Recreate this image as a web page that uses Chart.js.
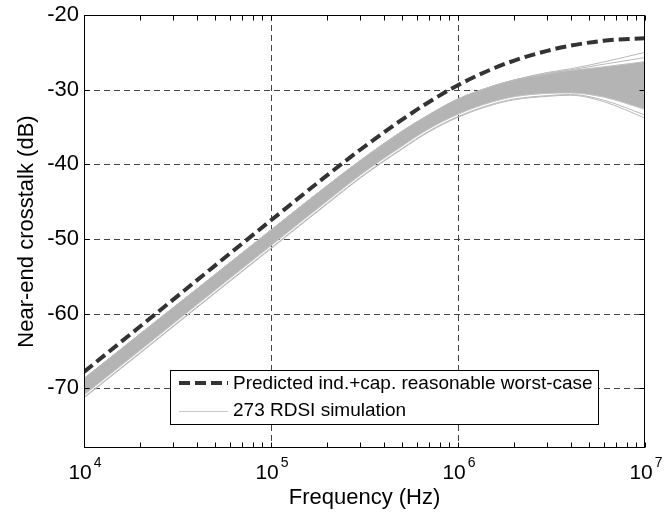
<!DOCTYPE html>
<html>
<head>
<meta charset="utf-8">
<script src="https://cdn.jsdelivr.net/npm/chart.js@4"></script>
<style>
html, body { margin: 0; padding: 0; background: #fff; }
</style>
</head>
<body>
<canvas id="myChart" width="664" height="516"></canvas>
<script>
// frequencies (Hz)
const freq = [1e4, 2e4, 5e4, 1e5, 2e5, 3e5, 5e5, 7e5, 1e6, 1.5e6, 2e6, 3e6, 4e6, 6e6, 1e7]
// predicted worst case (dB)
const worstCase = [-67.8, -61.7, -53.6, -47.5, -41.45, -38.05, -34.05, -31.65, -29.4, -27.3, -26.1, -24.8, -24.1, -23.45, -23.1]
// envelope of the simulation bundle
const bandTop = [-68.7, -62.7, -54.8, -48.8, -42.85, -39.5, -35.6, -33.35, -31.25, -29.6, -28.7, -27.9, -27.45, -26.95, -26.25]
const bandBottom = [-70.9, -64.9, -56.9, -50.9, -44.9, -41.45, -37.6, -35.25, -33.3, -31.7, -30.95, -30.5, -30.45, -31.0, -32.65]
// single runs that stick out of the bundle
const simHigh1 = [-68.7, -62.7, -54.8, -48.8, -42.85, -39.5, -35.6, -33.35, -31.25, -29.6, -28.7, -27.7, -27.2, -26.3, -25.0]
const simHigh2 = [-68.7, -62.7, -54.8, -48.8, -42.85, -39.5, -35.6, -33.35, -31.25, -29.6, -28.7, -27.8, -27.35, -26.6, -25.7]
const simLow1 = [-71.2, -65.2, -57.2, -51.2, -45.2, -41.75, -37.9, -35.55, -33.6, -32.0, -31.25, -30.8, -30.65, -31.4, -33.4]
const simLow2 = [-71.3, -65.3, -57.3, -51.3, -45.3, -41.85, -38.0, -35.65, -33.7, -32.1, -31.35, -30.9, -30.75, -31.6, -33.8]

const yTicks = [-70, -60, -50, -40, -30, -20]
const xDecades = [1e4, 1e5, 1e6, 1e7]
const xExp = ['4', '5', '6', '7']
const minorMult = [2, 3, 4, 5, 6, 7, 8, 9]
const legendLabels = ['Predicted ind.+cap. reasonable worst-case', '273 RDSI simulation']

const FONT = '"Liberation Sans", Arial, sans-serif'
const pts = vals => freq.map((f, i) => ({x: f, y: vals[i]}))

function simLine(vals) {
    return {data: pts(vals), borderColor: '#b9b9b9', borderWidth: 1, pointRadius: 0, fill: false, cubicInterpolationMode: 'monotone'}
}

const axesPlugin = {
    id: 'axesPlugin',
    beforeDatasetsDraw(chart) {
        const {ctx, chartArea: a, scales: {x, y}} = chart
        ctx.save()
        ctx.strokeStyle = '#444'
        ctx.lineWidth = 1
        ctx.setLineDash([6, 4])
        yTicks.forEach(v => {
            if (v === -20) return
            const py = Math.round(y.getPixelForValue(v)) + 0.5
            ctx.beginPath(); ctx.moveTo(a.left, py); ctx.lineTo(a.right, py); ctx.stroke()
        })
        xDecades.slice(1, -1).forEach(d => {
            const px = Math.round(x.getPixelForValue(d)) + 0.5
            ctx.beginPath(); ctx.moveTo(px, a.top); ctx.lineTo(px, a.bottom); ctx.stroke()
        })
        ctx.restore()
    },
    afterDatasetsDraw(chart) {
        const {ctx, chartArea: a, scales: {x, y}} = chart
        ctx.save()
        ctx.setLineDash([])
        ctx.strokeStyle = '#000'
        ctx.lineWidth = 1
        const L = Math.round(a.left) + 0.5, R = Math.round(a.right) - 0.5
        const T = Math.round(a.top) + 0.5, B = Math.round(a.bottom) - 0.5
        ctx.strokeRect(L, T, R - L, B - T)

        // tick marks inside the box
        ctx.beginPath()
        yTicks.forEach(v => {
            const py = Math.round(y.getPixelForValue(v)) + 0.5
            ctx.moveTo(L, py); ctx.lineTo(L + 5, py)
            ctx.moveTo(R, py); ctx.lineTo(R - 5, py)
        })
        xDecades.forEach((d, i) => {
            const all = [d]
            if (i < xDecades.length - 1) minorMult.forEach(m => all.push(d * m))
            all.forEach(v => {
                const px = Math.round(x.getPixelForValue(v)) + 0.5
                ctx.moveTo(px, B); ctx.lineTo(px, B - 5)
                ctx.moveTo(px, T); ctx.lineTo(px, T + 5)
            })
        })
        ctx.stroke()

        // decade labels 10^n
        ctx.fillStyle = '#000'
        ctx.textBaseline = 'alphabetic'
        ctx.textAlign = 'left'
        xDecades.forEach((d, i) => {
            const px = x.getPixelForValue(d)
            ctx.font = '21px ' + FONT
            const w1 = ctx.measureText('10').width
            ctx.font = '14px ' + FONT
            const w2 = ctx.measureText(xExp[i]).width
            const start = px - (w1 + w2) / 2
            ctx.font = '21px ' + FONT
            ctx.fillText('10', start, 479)
            ctx.font = '14px ' + FONT
            ctx.fillText(xExp[i], start + w1 + 2, 467)
        })

        // legend box
        const bx = 170.5, by = 370.5, bw = 428, bh = 54
        ctx.fillStyle = '#fff'
        ctx.fillRect(bx, by, bw, bh)
        ctx.strokeStyle = '#000'
        ctx.strokeRect(bx, by, bw, bh)
        ctx.strokeStyle = '#333'
        ctx.lineWidth = 4
        ctx.setLineDash([11, 5])
        ctx.beginPath(); ctx.moveTo(179, 383); ctx.lineTo(228, 383); ctx.stroke()
        ctx.setLineDash([])
        ctx.strokeStyle = '#c8c8c8'
        ctx.lineWidth = 1
        ctx.beginPath(); ctx.moveTo(179, 411.5); ctx.lineTo(228, 411.5); ctx.stroke()
        ctx.fillStyle = '#000'
        ctx.font = '19px ' + FONT
        ctx.textBaseline = 'middle'
        ctx.fillText(legendLabels[0], 233, 384)
        ctx.fillText(legendLabels[1], 233, 411)
        ctx.restore()
    }
}

const ctx = document.getElementById('myChart').getContext('2d')
const myChart = new Chart(ctx, {
    type: 'line',
    data: {
        datasets: [
            {label: legendLabels[0], data: pts(worstCase), borderColor: '#333333', borderWidth: 4, borderDash: [11, 5], pointRadius: 0, fill: false, cubicInterpolationMode: 'monotone'},
            {label: 'band top', data: pts(bandTop), borderColor: '#bcbcbc', borderWidth: 1, pointRadius: 0, fill: false, cubicInterpolationMode: 'monotone'},
            {label: legendLabels[1], data: pts(bandBottom), borderColor: '#c4c4c4', borderWidth: 1, pointRadius: 0, fill: '-1', backgroundColor: '#b4b4b4', cubicInterpolationMode: 'monotone'},
            simLine(simHigh1),
            simLine(simHigh2),
            simLine(simLow1),
            simLine(simLow2)
        ]
    },
    options: {
        responsive: false,
        animation: false,
        layout: {padding: {left: 0, right: 19, top: 15, bottom: 0}},
        plugins: {legend: {display: false}, tooltip: {enabled: false}},
        scales: {
            x: {
                type: 'logarithmic', min: 1e4, max: 1e7,
                grid: {display: false}, border: {display: false},
                ticks: {display: false},
                title: {display: true, text: 'Frequency (Hz)', color: '#000', font: {family: FONT, size: 22}, padding: {top: 0, bottom: 5}},
                afterFit(s) { s.height = 68 }
            },
            y: {
                min: -78, max: -20,
                grid: {display: false}, border: {display: false},
                ticks: {stepSize: 10, includeBounds: false, color: '#000', font: {family: FONT, size: 22}, padding: -3},
                title: {display: true, text: 'Near-end crosstalk (dB)', color: '#000', font: {family: FONT, size: 22}, padding: {top: 14, bottom: 0}},
                afterFit(s) { s.width = 84 }
            }
        }
    },
    plugins: [axesPlugin]
})
</script>
</body>
</html>
